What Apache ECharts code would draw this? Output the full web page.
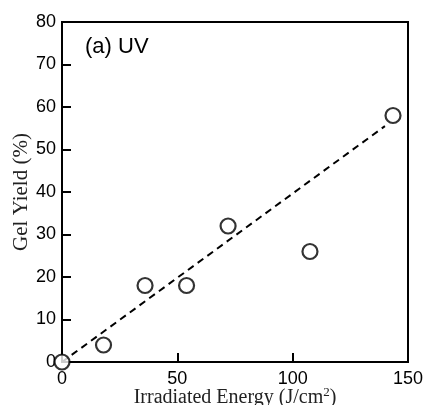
<!DOCTYPE html>
<html>
<head>
    <meta charset="utf-8"/>
    <title>Gel Yield</title>
    <script src="https://cdn.jsdelivr.net/npm/echarts@6/dist/echarts.min.js"></script>
    <style type="text/css">
        html, body { margin: 0; padding: 0; background: #fff; }
        #main { width: 427px; height: 405px; }
    </style>
</head>
<body>
<div id="main"></div>
<script type="text/javascript">
    // measured points (J/cm2, %)
    var energy = [0, 18, 36, 54, 72, 107.5, 143.5];
    var gelYield = [0, 4, 18, 18, 32, 26, 58];
    // dashed fit line end points
    var fitX = [0, 140];
    var fitY = [0, 55.5];

    var myChart = echarts.init(document.getElementById('main'));

    var pts = [];
    for (var i = 0; i < energy.length; i++) {
        pts.push([energy[i], gelYield[i]]);
    }
    var fit = [];
    for (var j = 0; j < fitX.length; j++) {
        fit.push([fitX[j], fitY[j]]);
    }

    var option = {
        animation: false,
        backgroundColor: '#fff',
        grid: {
            left: 62, right: 19, top: 22, bottom: 43,
            outerBoundsMode: 'none',
            containLabel: false,
            show: true, borderColor: '#000', borderWidth: 2
        },
        title: {
            text: '(a) UV',
            left: 80, top: 31,
            textStyle: { fontFamily: 'Liberation Sans', fontSize: 22, fontWeight: 'normal', color: '#000' }
        },
        xAxis: {
            type: 'value', min: 0, max: 150, interval: 50,
            name: 'Irradiated Energy (J/cm{sup|2})',
            nameLocation: 'middle', nameGap: 24,
            nameMoveOverlap: false,
            nameTextStyle: {
                fontFamily: 'Liberation Serif', fontSize: 20, color: '#222',
                rich: { sup: { fontFamily: 'Liberation Serif', fontSize: 13, color: '#222', verticalAlign: 'top', padding: [0, 0, 10, 0] } }
            },
            axisLine: { lineStyle: { color: '#000', width: 2 } },
            axisTick: { inside: true, length: 9, lineStyle: { color: '#000', width: 2 } },
            axisLabel: { fontFamily: 'Liberation Sans', fontSize: 18, color: '#000', margin: 8 },
            splitLine: { show: false }
        },
        yAxis: {
            type: 'value', min: 0, max: 80, interval: 10,
            name: 'Gel Yield (%)',
            nameLocation: 'middle', nameGap: 30,
            nameMoveOverlap: false,
            nameTextStyle: { fontFamily: 'Liberation Serif', fontSize: 21, color: '#222' },
            axisLine: { lineStyle: { color: '#000', width: 2 } },
            axisTick: { inside: true, length: 9, lineStyle: { color: '#000', width: 2 } },
            axisLabel: { fontFamily: 'Liberation Sans', fontSize: 18, color: '#000', margin: 6 },
            splitLine: { show: false }
        },
        series: [
            {
                type: 'line',
                data: fit,
                showSymbol: false,
                symbol: 'none',
                lineStyle: { color: '#000', width: 2, type: [7, 5] },
                z: 2
            },
            {
                type: 'scatter',
                data: pts,
                symbol: 'circle',
                symbolSize: 15,
                itemStyle: { color: '#fff', borderColor: '#000', borderWidth: 2.2 },
                z: 5
            }
        ]
    };
    myChart.setOption(option);
</script>
</body>
</html>
